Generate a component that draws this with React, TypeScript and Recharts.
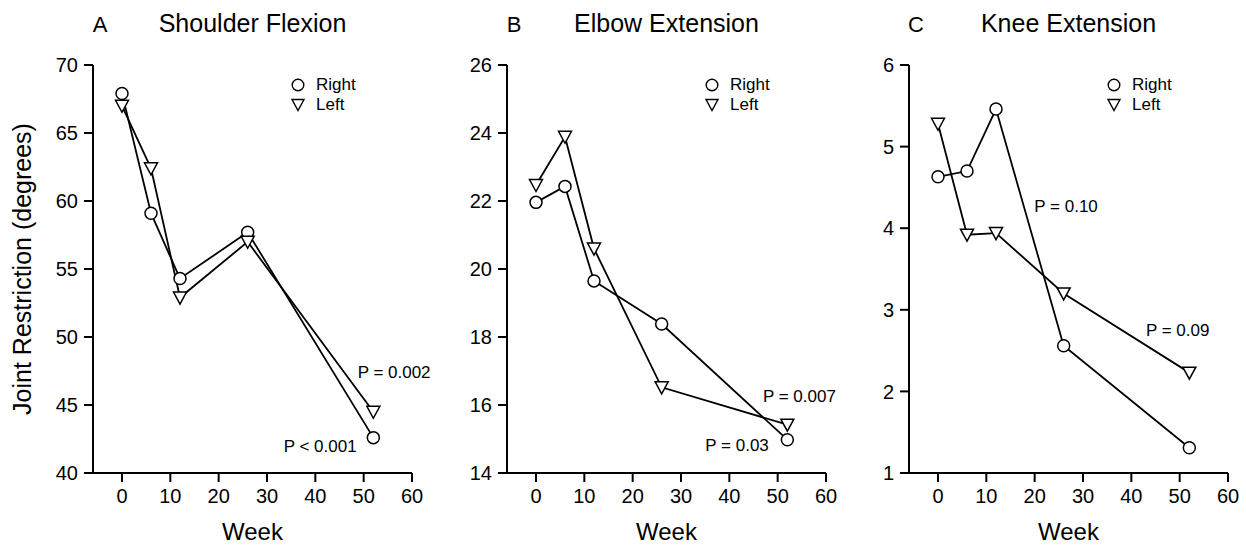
import React from 'react';
import { LineChart, Line, XAxis, YAxis, Legend, ReferenceDot } from 'recharts';

const weeks = [0, 6, 12, 26, 52];
const shoulderRight = [67.9, 59.1, 54.3, 57.7, 42.6];
const shoulderLeft = [67.0, 62.4, 52.9, 57.0, 44.5];
const elbowRight = [21.96, 22.43, 19.65, 18.38, 14.98];
const elbowLeft = [22.47, 23.89, 20.6, 16.52, 15.42];
const kneeRight = [4.63, 4.7, 5.46, 2.56, 1.31];
const kneeLeft = [5.28, 3.92, 3.94, 3.2, 2.23];

const xTicks = [0, 10, 20, 30, 40, 50, 60];
const shoulderTicks = [40, 45, 50, 55, 60, 65, 70];
const elbowTicks = [14, 16, 18, 20, 22, 24, 26];
const kneeTicks = [1, 2, 3, 4, 5, 6];

const shoulderNotes = [
  { x: 56.3, y: 47.4, text: 'P = 0.002' },
  { x: 41.0, y: 42.0, text: 'P < 0.001' },
];
const elbowNotes = [
  { x: 54.5, y: 16.26, text: 'P = 0.007' },
  { x: 41.6, y: 14.82, text: 'P = 0.03' },
];
const kneeNotes = [
  { x: 26.5, y: 4.27, text: 'P = 0.10' },
  { x: 49.6, y: 2.75, text: 'P = 0.09' },
];

const FONT = '"Liberation Sans", Arial, Helvetica, sans-serif';
const W = 440;
const H = 547;

function build(right: number[], left: number[]) {
  return weeks.map((w, i) => ({ week: w, right: right[i], left: left[i] }));
}

const TriangleDot = (props: any) => {
  const { cx, cy, index } = props;
  if (cx == null || cy == null) return <g key={`t-${index}`} />;
  return (
    <path
      key={`t-${index}`}
      d={`M${cx - 6.5},${cy - 5.5} L${cx + 6.5},${cy - 5.5} L${cx},${cy + 6.5} Z`}
      fill="#fff"
      stroke="#000"
      strokeWidth={1.5}
      strokeLinejoin="miter"
    />
  );
};

const LegendContent = () => (
  <div style={{ fontFamily: FONT, fontSize: 17, color: '#000', lineHeight: '20px' }}>
    <div style={{ display: 'flex', alignItems: 'center', height: 20 }}>
      <svg width={26} height={20}>
        <circle cx={8} cy={10} r={5.8} fill="#fff" stroke="#000" strokeWidth={1.4} />
      </svg>
      <span>Right</span>
    </div>
    <div style={{ display: 'flex', alignItems: 'center', height: 20 }}>
      <svg width={26} height={20}>
        <path d="M2,4.5 L14,4.5 L8,15.5 Z" fill="#fff" stroke="#000" strokeWidth={1.4} />
      </svg>
      <span>Left</span>
    </div>
  </div>
);

type PanelProps = {
  left: number;
  data: any[];
  domain: [number, number];
  yTicks: number[];
  notes: { x: number; y: number; text: string }[];
  showYLabel: boolean;
};

function Panel({ left, data, domain, yTicks, notes, showYLabel }: PanelProps) {
  return (
    <div style={{ position: 'absolute', left, top: 0, width: W, height: H }}>
      <LineChart width={W} height={H} data={data} margin={{ top: 65, right: 28, bottom: 0, left: 0 }}>
        <XAxis
          dataKey="week"
          type="number"
          domain={[-6, 60]}
          ticks={xTicks}
          allowDataOverflow
          height={74}
          tickSize={9}
          tickMargin={7}
          axisLine={{ stroke: '#000', strokeWidth: 2 }}
          tickLine={{ stroke: '#000', strokeWidth: 2 }}
          tick={{ fill: '#000', fontSize: 20, fontFamily: FONT }}
          label={{ value: 'Week', position: 'insideBottom', offset: 7, fill: '#000', fontSize: 24, fontFamily: FONT }}
        />
        <YAxis
          type="number"
          domain={domain}
          ticks={yTicks}
          allowDataOverflow
          width={93}
          tickSize={9}
          tickMargin={6}
          axisLine={{ stroke: '#000', strokeWidth: 2 }}
          tickLine={{ stroke: '#000', strokeWidth: 2 }}
          tick={{ fill: '#000', fontSize: 20, fontFamily: FONT }}
          label={
            showYLabel
              ? {
                  value: 'Joint Restriction (degrees)',
                  angle: -90,
                  position: 'insideLeft',
                  offset: 22,
                  fill: '#000',
                  fontSize: 25,
                  fontFamily: FONT,
                  style: { textAnchor: 'middle' },
                }
              : undefined
          }
        />
        <Legend
          layout="vertical"
          align="center"
          verticalAlign="middle"
          content={<LegendContent />}
          wrapperStyle={{ left: 290, top: 75, width: 90, height: 40 }}
        />
        <Line
          type="linear"
          dataKey="right"
          name="Right"
          stroke="#000"
          strokeWidth={1.8}
          isAnimationActive={false}
          dot={{ r: 6, fill: '#fff', stroke: '#000', strokeWidth: 1.5 }}
          activeDot={false}
        />
        <Line
          type="linear"
          dataKey="left"
          name="Left"
          stroke="#000"
          strokeWidth={1.8}
          isAnimationActive={false}
          dot={(p: any) => <TriangleDot {...p} key={`tri-${p.index}`} />}
          activeDot={false}
        />
        {notes.map((n, i) => (
          <ReferenceDot
            key={`n-${i}`}
            x={n.x}
            y={n.y}
            r={0}
            fill="none"
            stroke="none"
            label={{ value: n.text, position: 'center', fill: '#000', fontSize: 17, fontFamily: FONT }}
          />
        ))}
      </LineChart>
    </div>
  );
}

const panels = [
  { left: 0, letter: 'A', title: 'Shoulder Flexion' },
  { left: 414, letter: 'B', title: 'Elbow Extension' },
  { left: 816, letter: 'C', title: 'Knee Extension' },
];

export default function App() {
  return (
    <div style={{ position: 'absolute', left: 0, top: 0, width: 1246, height: 547, background: '#fff', overflow: 'hidden' }}>
      <Panel left={0} data={build(shoulderRight, shoulderLeft)} domain={[40, 70]} yTicks={shoulderTicks} notes={shoulderNotes} showYLabel />
      <Panel left={414} data={build(elbowRight, elbowLeft)} domain={[14, 26]} yTicks={elbowTicks} notes={elbowNotes} showYLabel={false} />
      <Panel left={816} data={build(kneeRight, kneeLeft)} domain={[1, 6]} yTicks={kneeTicks} notes={kneeNotes} showYLabel={false} />
      <svg width={1246} height={547} style={{ position: 'absolute', left: 0, top: 0, pointerEvents: 'none' }}>
        {panels.map((p) => (
          <g key={p.letter} fontFamily={FONT} fill="#000">
            <text x={p.left + 100} y={32} fontSize={22} textAnchor="middle">{p.letter}</text>
            <text x={p.left + 252.5} y={32} fontSize={25} textAnchor="middle">{p.title}</text>
          </g>
        ))}
      </svg>
    </div>
  );
}
